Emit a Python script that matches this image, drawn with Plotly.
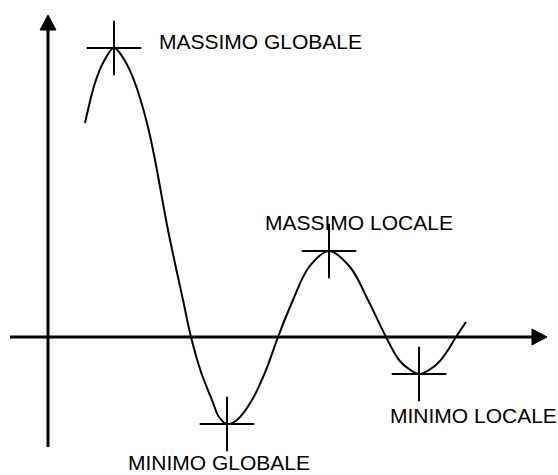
import plotly.graph_objects as go

# Curve samples (x, y) in axis units; origin where the two axes cross
curve_x = [3.7, 4.7, 5.5, 6.6, 7.7, 8.7, 9.9, 10.7, 12.0, 13.5, 14.3, 15.3, 16.4,
           17.1, 17.9, 18.9, 20.4, 21.8, 23.0, 24.5, 26.1, 28.1, 30.2, 32.0, 33.8,
           35.1, 36.1, 37.1, 38.1, 39.1, 40.0, 40.8, 41.8]
curve_y = [21.4, 25.4, 27.4, 28.9, 27.6, 25.4, 21.4, 17.7, 10.7, 3.7, 0.0, -3.5, -6.3,
           -8.0, -8.7, -8.3, -6.3, -3.3, 0.0, 3.7, 7.0, 8.6, 7.0, 3.7, 0.0,
           -2.3, -3.2, -3.7, -3.3, -2.5, -1.3, 0.0, 1.5]

# Extrema marked with crosses, and their labels
extrema_x = [6.6, 17.9, 28.1, 37.1]
extrema_y = [28.9, -8.7, 8.6, -3.7]
labels = ["MASSIMO GLOBALE", "MINIMO GLOBALE", "MASSIMO LOCALE", "MINIMO LOCALE"]
label_x = [10.9, 7.8, 21.5, 34.0]
label_y = [29.6, -12.5, 11.5, -7.8]

# Axis extents (arrow tips) and arrow head size
x_axis_start, x_axis_tip = -3.8, 49.9
y_axis_start, y_axis_tip = -11.0, 32.2
head_len, head_half = 1.5, 0.8

fig = go.Figure()

fig.add_trace(go.Scatter(
    x=curve_x, y=curve_y, mode="lines",
    line=dict(color="black", width=2, shape="spline", smoothing=1.0),
    hoverinfo="skip", showlegend=False,
))

fig.add_trace(go.Scatter(
    x=extrema_x, y=extrema_y, mode="markers",
    marker=dict(symbol="cross-thin", size=39, color="black",
                line=dict(color="black", width=2)),
    hoverinfo="skip", showlegend=False,
))

# Axes drawn as thick lines ending in filled triangles
shapes = [
    dict(type="line", x0=x_axis_start, y0=0, x1=x_axis_tip - head_len, y1=0,
         line=dict(color="black", width=3)),
    dict(type="line", x0=0, y0=y_axis_start, x1=0, y1=y_axis_tip - head_len,
         line=dict(color="black", width=3)),
    dict(type="path",
         path=f"M {x_axis_tip} 0 L {x_axis_tip - head_len} {head_half} "
              f"L {x_axis_tip - head_len} {-head_half} Z",
         fillcolor="black", line=dict(color="black", width=1)),
    dict(type="path",
         path=f"M 0 {y_axis_tip} L {-head_half} {y_axis_tip - head_len} "
              f"L {head_half} {y_axis_tip - head_len} Z",
         fillcolor="black", line=dict(color="black", width=1)),
]

annotations = [
    dict(x=lx, y=ly, text=t, showarrow=False, xanchor="left", yanchor="middle",
         font=dict(family="Liberation Sans, Arial, sans-serif", size=21, color="black"))
    for t, lx, ly in zip(labels, label_x, label_y)
]

fig.update_layout(
    width=558, height=475,
    margin=dict(l=0, r=0, t=0, b=0),
    paper_bgcolor="white", plot_bgcolor="white",
    xaxis=dict(range=[-4.8, 51.0], visible=False, fixedrange=True),
    yaxis=dict(range=[-13.8, 33.7], visible=False, fixedrange=True),
    shapes=shapes, annotations=annotations,
)

fig.write_html("out.html")
